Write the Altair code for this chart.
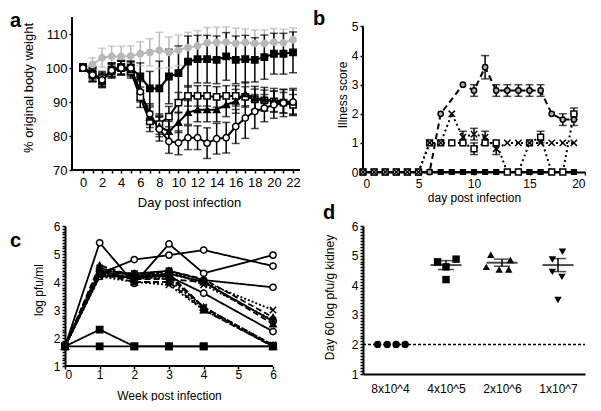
import altair as alt
import pandas as pd

FONT = "Liberation Sans"

# ---------------- (a) body weight ----------------
a_days = list(range(23))
a_series = ["mock", "group A", "group B", "group C", "group D"]
a_gray = [100, 101, 103, 103.4, 103.4, 103.5, 104.2, 104.6, 105.2, 104.6, 105.2, 106, 106.5, 107.4, 107.5, 107.6, 107.2, 107.5, 107.2, 107.2, 107.6, 107.4, 108.3]
a_gray_sd = [0, 2, 2.8, 3, 3, 3, 3.5, 4, 5.3, 4.5, 4.5, 4.5, 4.5, 4.5, 4.5, 4.5, 4.5, 4, 4, 4, 4, 4, 3.5]
a_fsq = [100.3, 98.5, 96.1, 99.5, 100.3, 100, 97.5, 94, 94, 97.5, 98.5, 101.9, 102.6, 102.6, 102.4, 103.4, 102.4, 102.6, 102.4, 103.2, 104.2, 104.2, 104.6]
a_fsq_sd = [0, 2, 1.9, 2, 2, 2, 4, 5, 8, 8, 8, 7.5, 7, 7, 7, 7, 7, 7, 6.5, 6.5, 6, 6, 6]
a_osq = [100, 98, 97, 99, 100, 99, 91.4, 84.3, 83.5, 85.7, 89.8, 91.8, 91.8, 91.8, 91.5, 91.8, 91.8, 91.5, 90.8, 90.5, 90.2, 89.8, 89.2]
a_osq_sd = [0, 2, 2, 2, 2, 2, 3, 3, 3, 3, 3, 3, 3, 3, 3, 3, 3, 3, 3, 3, 3, 3, 3]
a_tri = [100, 98, 96.5, 99.5, 100, 99.5, 93.5, 85.5, 82.8, 81.3, 84, 86.9, 87.7, 87.7, 87.7, 89.2, 90.2, 92.4, 91.1, 90.8, 90.5, 90.2, 90]
a_tri_sd = [0, 2, 2, 2, 2, 2, 3, 3, 3, 3, 3, 3.5, 3.5, 3.5, 3.5, 3.5, 3.5, 3.5, 3.5, 3.5, 3.5, 3.5, 3.5]
a_ocir = [100, 98, 96.5, 99.3, 100, 100, 93, 86.5, 82, 78.4, 78, 79.5, 79.5, 77.9, 79.2, 79.5, 82.8, 85.3, 87.2, 88.2, 89.2, 89.7, 90]
a_ocir_sd = [0, 2, 2, 2, 2, 2, 3, 3, 3.5, 3.5, 3.5, 3.5, 3.5, 4.5, 4.5, 4.5, 5, 6, 5, 4, 4, 4, 4]
a_colors = ["#b8b8b8", "black", "black", "black", "black"]
a_fills = ["#b8b8b8", "black", "white", "black", "white"]
a_shapes = ["circle", "square", "square", "triangle-up", "circle"]

# ---------------- (b) illness score ----------------
b_days = list(range(20))
b_series = ["s0", "s1", "s2", "s3"]
b_zero = [0, 0, 0, 0, 0, 0, 0, 0, 0, 0, 0, 0, 0, 0, 0, 0, 0, 0, 0, 0]
b_zero_err = [0, 0, 0, 0, 0, 0, 0, 0, 0, 0, 0, 0, 0, 0, 0, 0, 0, 0, 0, 0]
b_circ = [0, 0, 0, 0, 0, 0, 0, 2, None, 3, 2.8, 3.6, 2.8, 2.8, 2.8, 2.8, 2.8, 2, 1.8, 1.8]
b_circ_err = [0, 0, 0, 0, 0, 0, 0, 0, 0, 0, 0.2, 0.4, 0.2, 0.2, 0.2, 0.2, 0.2, 0, 0.2, 0.2]
b_sq = [0, 0, 0, 0, 0, 0, 1, 1, 1, 1, 0.8, 1, 1, 0, 0, 1, 1.2, 0, 0, 2]
b_sq_err = [0, 0, 0, 0, 0, 0, 0, 0, 0, 0, 0.2, 0, 0, 0, 0, 0, 0.2, 0, 0, 0.2]
b_x = [0, 0, 0, 0, 0, 0, 1, 1, 2, 1.2, 1.3, 1.2, 0.8, 1, 1, 1, 1, 1, 1, 1]
b_x_err = [0, 0, 0, 0, 0, 0, 0, 0, 0, 0.2, 0.2, 0.2, 0.2, 0, 0, 0, 0, 0, 0, 0]
b_fills = ["black", "#b0b0b0", "white", "black"]
b_shapes = ["square", "circle", "square", "M-1,-1L1,1M-1,1L1,-1"]
b_sizes = [22, 40, 36, 30]
b_dash = [[1, 0], [6, 4], [2, 3], [2, 3]]

# ---------------- (c) viraemia, individual mice ----------------
c_weeks = [0, 1, 2, 3, 4, 6]
c_lines = {
    "m01": ("g1", [1.7, 5.4, 3.95, 5.36, 4.31, 4.96]),
    "m02": ("g1", [1.7, 4.3, 4.8, 4.96, 5.14, 4.57]),
    "m03": ("g1", [1.7, 4.3, 4.3, 4.4, 4.07, 3.81]),
    "m04": ("g1", [1.7, 4.2, 4.2, 4.2, 3.6, 2.23]),
    "m05": ("g1", [1.7, 4.4, 4.1, 4.3, 4.0, 2.6]),
    "m06": ("g2", [1.7, 4.5, 4.2, 4.4, 4.1, 2.74]),
    "m07": ("g2", [1.7, 4.4, 4.3, 4.2, 3.1, 1.7]),
    "m08": ("g2", [1.7, 4.3, 4.1, 4.1, 4.0, 2.5]),
    "m09": ("g2", [1.7, 4.6, 4.2, 4.3, 3.1, 1.75]),
    "m10": ("g2", [1.7, 4.3, 4.0, 4.0, 3.0, 1.7]),
    "m11": ("g3", [1.7, 4.4, 4.3, 4.3, 4.0, 3.0]),
    "m12": ("g3", [1.7, 4.2, 4.2, 4.1, 3.05, 1.7]),
    "m13": ("g3", [1.7, 4.3, 4.1, 4.2, 3.1, 1.75]),
    "m14": ("g3", [1.7, 4.5, 4.2, 4.4, 3.9, 2.64]),
    "m15": ("g3", [1.7, 4.2, 4.0, 3.9, 3.0, 1.7]),
    "m16": ("g4", [1.7, 2.3, 1.7, 1.7, 1.7, 1.7]),
    "m17": ("g4", [1.7, 1.7, 1.7, 1.7, 1.7, 1.7]),
}
c_groups = ["g1", "g2", "g3", "g4"]
c_shapes = ["circle", "triangle-up", "M-1,-1L1,1M-1,1L1,-1", "square"]
c_fills = ["white", "black", "black", "black"]
c_dash = [[1, 0], [6, 3], [2, 2], [1, 0]]

# ---------------- (d) day 60 kidney titres ----------------
d_cats = ["8x10^4", "4x10^5", "2x10^6", "1x10^7"]
d_pos = [1, 2, 3, 4]
d_vals = [[2, 2, 2, 2], [4.79, 4.88, 4.62, 4.19], [5.03, 4.85, 4.62, 4.53, 4.53], [5.13, 4.87, 4.45, 4.28, 3.5]]
d_jit = [[-0.22, -0.05, 0.11, 0.27], [-0.15, 0.18, 0.0, 0.0], [-0.2, 0.15, -0.28, -0.05, 0.12], [0.08, -0.1, -0.1, 0.07, 0.0]]
d_shapes = ["circle", "square", "triangle-up", "triangle-down"]
d_mean = [None, 4.68, 4.76, 4.68]
d_sem = [None, 0.15, 0.12, 0.22]
d_lod = 2

# axis titles
titles = {
    "a_x": "Day post infection", "a_y": "% original body weight",
    "b_x": "day post infection", "b_y": "Illness score",
    "c_x": "Week post infection", "c_y": "log pfu/ml",
    "d_y": "Day 60 log pfu/g kidney",
}

# =====================================================================
def axis(**kw):
    base = dict(grid=False, labelFont=FONT, titleFont=FONT, titleFontWeight="normal",
                labelColor="black", titleColor="black", tickColor="black",
                domainColor="black", domainWidth=2, tickWidth=1.5, labelOverlap=False)
    base.update(kw)
    if "values" in kw:
        base["tickCount"] = len(kw["values"])
    return alt.Axis(**base)


def letter(t, x, y):
    return alt.Chart(pd.DataFrame({"t": [t]})).mark_text(
        align="left", baseline="alphabetic", fontSize=20, fontWeight="bold", font=FONT, color="black"
    ).encode(text="t:N", x=alt.value(x), y=alt.value(y))


def ytitle(t, x, y, size):
    return alt.Chart(pd.DataFrame({"t": [t]})).mark_text(
        align="center", baseline="middle", angle=270, fontSize=size, font=FONT, color="black"
    ).encode(text="t:N", x=alt.value(x), y=alt.value(y))


one = pd.DataFrame({"k": [0]})
minor = [round(1 + i * 0.1, 1) for i in range(51)]
int_lab = "datum.value % 1 === 0 ? format(datum.value, 'd') : ''"

# ---------------- panel a ----------------
rows = []
for name, vals, sds in zip(a_series, [a_gray, a_fsq, a_osq, a_tri, a_ocir],
                           [a_gray_sd, a_fsq_sd, a_osq_sd, a_tri_sd, a_ocir_sd]):
    for d, v, s in zip(a_days, vals, sds):
        rows.append(dict(series=name, day=d, val=v, sd=s, lo=v - s, hi=v + s))
dfa = pd.DataFrame(rows)
dfa_err = dfa[dfa.sd > 0]

xa_dom = [-1.886, 22.733]
ya_dom = [68.824, 115]
xa_scale = alt.Scale(domain=xa_dom, nice=False, zero=False)
ya_scale = alt.Scale(domain=ya_dom, nice=False, zero=False)
ax_xa = axis(values=a_days, labelExpr="datum.value % 2 == 0 ? datum.label : ''", offset=-4,
             domain=False, tickSize=3, labelPadding=3, labelFontSize=13,
             title=titles["a_x"], titleFontSize=13, titleX=124, titleY=26)
ax_ya = axis(values=[70, 80, 90, 100, 110], offset=-7, domain=False, tickSize=3, labelPadding=2,
             labelFontSize=13, title=None)

XA = lambda f: alt.X(f, type="quantitative", scale=xa_scale, axis=ax_xa)
YA = lambda f: alt.Y(f, type="quantitative", scale=ya_scale, axis=ax_ya)
col_a = alt.Color("series:N", scale=alt.Scale(domain=a_series, range=a_colors), legend=None)
a_x0 = xa_dom[0] + 7 / 9.545

pa = alt.layer(
    alt.Chart(one).mark_rule(color="black", strokeWidth=2).encode(
        x=alt.datum(a_x0), y=alt.datum(70), y2=alt.datum(ya_dom[1])),
    alt.Chart(one).mark_rule(color="black", strokeWidth=2).encode(
        x=alt.datum(a_x0), x2=alt.datum(xa_dom[1]), y=alt.datum(70)),
    alt.Chart(dfa_err).mark_rule(strokeWidth=1.5).encode(x=XA("day"), y=YA("lo"), y2="hi", color=col_a),
    alt.Chart(dfa_err).mark_tick(orient="horizontal", size=8, thickness=1.5).encode(x=XA("day"), y=YA("lo"), color=col_a),
    alt.Chart(dfa_err).mark_tick(orient="horizontal", size=8, thickness=1.5).encode(x=XA("day"), y=YA("hi"), color=col_a),
    alt.Chart(dfa).mark_line(strokeWidth=2).encode(x=XA("day"), y=YA("val"), color=col_a, detail="series:N"),
    alt.Chart(dfa).mark_point(size=40, strokeWidth=1.5, opacity=1, fillOpacity=1).encode(
        x=XA("day"), y=YA("val"),
        shape=alt.Shape("series:N", scale=alt.Scale(domain=a_series, range=a_shapes), legend=None),
        fill=alt.Fill("series:N", scale=alt.Scale(domain=a_series, range=a_fills), legend=None),
        stroke=alt.Stroke("series:N", scale=alt.Scale(domain=a_series, range=a_colors), legend=None)),
    ytitle(titles["a_y"], -36.5, 71, 13),
    letter("a", -55, 10),
).properties(width=235, height=157)

# ---------------- panel b ----------------
rows = []
for name, vals, errs in zip(b_series, [b_zero, b_circ, b_sq, b_x], [b_zero_err, b_circ_err, b_sq_err, b_x_err]):
    for d, v, e in zip(b_days, vals, errs):
        if v is None:
            continue
        rows.append(dict(series=name, day=d, val=v, err=e, lo=v - e, hi=v + e))
dfb = pd.DataFrame(rows)
dfb_err = dfb[dfb.err > 0]

xb_scale = alt.Scale(domain=[0, 20], nice=False, zero=False)
yb_dom = [0, 5.326]
yb_scale = alt.Scale(domain=yb_dom, nice=False, zero=False)
ax_xb = axis(values=[0, 5, 10, 15, 20], tickSize=3, labelPadding=3, labelFontSize=12,
             title=titles["b_x"], titleFontSize=12, titleX=111, titleY=20)
ax_yb = axis(values=[0, 1, 2, 3, 4, 5], domain=False, tickSize=3, labelPadding=2, labelFontSize=12, title=None)
XB = lambda f: alt.X(f, type="quantitative", scale=xb_scale, axis=ax_xb)
YB = lambda f: alt.Y(f, type="quantitative", scale=yb_scale, axis=ax_yb)

pb = alt.layer(
    alt.Chart(one).mark_rule(color="black", strokeWidth=2).encode(
        x=alt.datum(0), y=alt.datum(0), y2=alt.datum(5)),
    alt.Chart(dfb).mark_line(strokeWidth=2, color="black").encode(
        x=XB("day"), y=YB("val"), detail="series:N",
        strokeDash=alt.StrokeDash("series:N", scale=alt.Scale(domain=b_series, range=b_dash), legend=None)),
    alt.Chart(dfb_err).mark_rule(strokeWidth=1.5, color="black").encode(x=XB("day"), y=YB("lo"), y2="hi"),
    alt.Chart(dfb_err).mark_tick(orient="horizontal", size=8, thickness=1.5, color="black").encode(x=XB("day"), y=YB("lo")),
    alt.Chart(dfb_err).mark_tick(orient="horizontal", size=8, thickness=1.5, color="black").encode(x=XB("day"), y=YB("hi")),
    alt.Chart(dfb).mark_point(strokeWidth=1.5, opacity=1, fillOpacity=1, stroke="black").encode(
        x=XB("day"), y=YB("val"),
        shape=alt.Shape("series:N", scale=alt.Scale(domain=b_series, range=b_shapes), legend=None),
        fill=alt.Fill("series:N", scale=alt.Scale(domain=b_series, range=b_fills), legend=None),
        size=alt.Size("series:N", scale=alt.Scale(domain=b_series, range=b_sizes), legend=None)),
    ytitle(titles["b_y"], -20.5, 78, 12),
    letter("b", -50, 8),
).properties(width=222, height=155)

# ---------------- panel c ----------------
rows = []
for lid, (grp, vals) in c_lines.items():
    for w, v in zip(c_weeks, vals):
        rows.append(dict(mouse=lid, group=grp, week=w, val=v))
dfc = pd.DataFrame(rows)

xc_dom = [0, 6.75]
xc_scale = alt.Scale(domain=xc_dom, nice=False, zero=False)
yc_scale = alt.Scale(domain=[1, 6], nice=False, zero=False)
ax_xc = axis(values=[0, 1, 2, 3, 4, 5, 6], domain=False, tickSize=3, labelPadding=0, labelFontSize=12,
             title=titles["c_x"], titleFontSize=12, titleX=104, titleY=24)
ax_yc = axis(values=minor, labelExpr=int_lab, tickSize=3, labelPadding=2, labelFontSize=12, title=None)
XC = lambda f: alt.X(f, type="quantitative", scale=xc_scale, axis=ax_xc)
YC = lambda f: alt.Y(f, type="quantitative", scale=yc_scale, axis=ax_yc)

pc = alt.layer(
    alt.Chart(one).mark_rule(color="black", strokeWidth=2).encode(
        x=alt.datum(0), x2=alt.datum(6), y=alt.datum(1)),
    alt.Chart(dfc).mark_line(strokeWidth=1.8, color="black").encode(
        x=XC("week"), y=YC("val"), detail="mouse:N",
        strokeDash=alt.StrokeDash("group:N", scale=alt.Scale(domain=c_groups, range=c_dash), legend=None)),
    alt.Chart(dfc).mark_point(size=40, strokeWidth=1.5, opacity=1, fillOpacity=1, stroke="black").encode(
        x=XC("week"), y=YC("val"),
        shape=alt.Shape("group:N", scale=alt.Scale(domain=c_groups, range=c_shapes), legend=None),
        fill=alt.Fill("group:N", scale=alt.Scale(domain=c_groups, range=c_fills), legend=None)),
    ytitle(titles["c_y"], -26, 64, 12),
    letter("c", -55, 21),
).properties(width=234, height=140)

# ---------------- panel d ----------------
rows = []
for cat, p, vals, jit in zip(d_cats, d_pos, d_vals, d_jit):
    for v, j in zip(vals, jit):
        rows.append(dict(cat=cat, x=p + j, val=v))
dfd = pd.DataFrame(rows)
dfm = pd.DataFrame([dict(cat=c, x=p, mean=m, lo=m - s, hi=m + s)
                    for c, p, m, s in zip(d_cats, d_pos, d_mean, d_sem) if m is not None])

xd_dom = [0.518, 4.482]
xd_scale = alt.Scale(domain=xd_dom, nice=False, zero=False)
yd_scale = alt.Scale(domain=[1, 6], nice=False, zero=False)
lab_expr = "[" + ",".join("'%s'" % c for c in d_cats) + "][datum.value - 1]"
ax_xd = axis(values=d_pos, labelExpr=lab_expr, tickSize=0, labelPadding=9, labelFontSize=12, title=None)
ax_yd = axis(values=minor, labelExpr=int_lab, tickSize=3, labelPadding=2, labelFontSize=12, title=None)
XD = lambda f: alt.X(f, type="quantitative", scale=xd_scale, axis=ax_xd)
YD = lambda f: alt.Y(f, type="quantitative", scale=yd_scale, axis=ax_yd)

pdd = alt.layer(
    alt.Chart(one).mark_rule(color="black", strokeWidth=1.5, strokeDash=[3, 2]).encode(
        x=alt.datum(xd_dom[0]), x2=alt.datum(xd_dom[1]), y=alt.datum(d_lod)),
    alt.Chart(dfm).mark_rule(strokeWidth=1.5, color="black").encode(x=XD("x"), y=YD("lo"), y2="hi"),
    alt.Chart(dfm).mark_tick(orient="horizontal", size=16, thickness=1.5, color="black").encode(x=XD("x"), y=YD("lo")),
    alt.Chart(dfm).mark_tick(orient="horizontal", size=16, thickness=1.5, color="black").encode(x=XD("x"), y=YD("hi")),
    alt.Chart(dfm).mark_tick(orient="horizontal", size=31, thickness=2, color="black").encode(x=XD("x"), y=YD("mean")),
    alt.Chart(dfd).mark_point(size=55, filled=True, opacity=1, color="black").encode(
        x=XD("x"), y=YD("val"),
        shape=alt.Shape("cat:N", scale=alt.Scale(domain=d_cats, range=d_shapes), legend=None)),
    ytitle(titles["d_y"], -33, 71.5, 12),
    letter("d", -40, -7),
).properties(width=222, height=148)

chart = alt.concat(
    pa, pb, pc, pdd, columns=2, spacing={"row": 52, "column": 63}, bounds="flush", align="none"
).resolve_scale(
    color="independent", fill="independent", stroke="independent",
    shape="independent", size="independent", strokeDash="independent"
).properties(
    padding={"left": 2, "top": 1, "right": 0, "bottom": 0}, background="white"
).configure_view(stroke=None)

chart.save("out.html", embed_options={"renderer": "svg", "actions": False})
